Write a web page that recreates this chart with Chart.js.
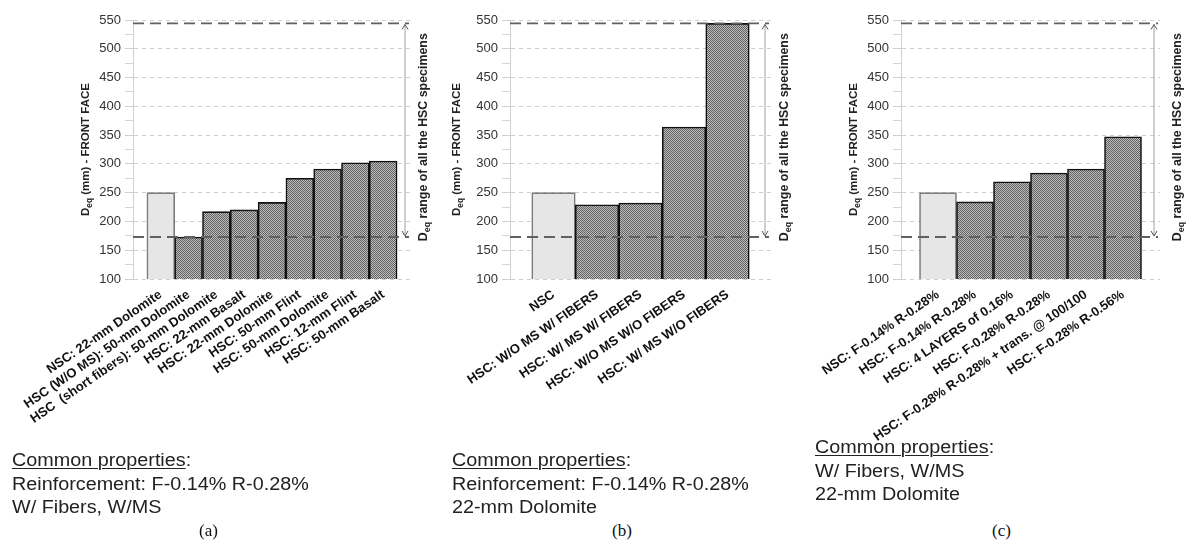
<!DOCTYPE html>
<html><head><meta charset="utf-8">
<script src="https://cdn.jsdelivr.net/npm/chart.js@4"></script>
<style>
html,body{margin:0;padding:0;background:#fff;width:1186px;height:542px;overflow:hidden;position:relative}
canvas{position:absolute;top:0}
.txt{position:absolute;font-family:'Liberation Sans',Arial,sans-serif;font-size:17.5px;color:#222;line-height:23.5px;transform:scaleX(1.13);transform-origin:0 0;white-space:nowrap}
.txt u{text-decoration-thickness:1px;text-underline-offset:2px}
.cap{position:absolute;font-family:'Liberation Serif','Times New Roman',serif;font-size:17px;color:#111;white-space:nowrap}
</style></head>
<body>
<canvas id="ca" width="445" height="450" style="left:0"></canvas>
<canvas id="cb" width="370" height="450" style="left:440px"></canvas>
<canvas id="cc" width="396" height="450" style="left:790px"></canvas>

<div class="txt" style="left:12px;top:449px"><u>Common properties</u>:<br>Reinforcement: F-0.14% R-0.28%<br>W/ Fibers, W/MS</div>
<div class="txt" style="left:452px;top:449px"><u>Common properties</u>:<br>Reinforcement: F-0.14% R-0.28%<br>22-mm Dolomite</div>
<div class="txt" style="left:815px;top:436px"><u>Common properties</u>:<br>W/ Fibers, W/MS<br>22-mm Dolomite</div>
<div class="cap" style="left:199px;top:521px">(a)</div>
<div class="cap" style="left:612px;top:521px">(b)</div>
<div class="cap" style="left:992px;top:521px">(c)</div>

<script>
// ---- data ----
const catsA = ["NSC: 22-mm Dolomite", "HSC (W/O MS): 50-mm Dolomite", "HSC  (short fibers): 50-mm Dolomite", "HSC: 22-mm Basalt", "HSC: 22-mm Dolomite", "HSC: 50-mm Flint", "HSC: 50-mm Dolomite", "HSC: 12-mm Flint", "HSC: 50-mm Basalt"];
const valsA = [250, 173, 217, 220, 233, 275, 291, 302, 305];
const catsB = ["NSC", "HSC: W/O MS W/ FIBERS", "HSC: W/ MS W/ FIBERS", "HSC: W/O MS W/O FIBERS", "HSC: W/ MS W/O FIBERS"];
const valsB = [250, 229, 232, 364, 544];
const catsC = ["NSC: F-0.14% R-0.28%", "HSC: F-0.14% R-0.28%", "HSC: 4 LAYERS of 0.16%", "HSC: F-0.28% R-0.28%", "HSC: F-0.28% R-0.28% + trans. @ 100/100", "HSC: F-0.28% R-0.56%"];
const valsC = [250, 234, 269, 284, 291, 347];
const hscRange = [173, 544];
const yTickValues = [100, 125, 150, 175, 200, 225, 250, 275, 300, 325, 350, 375, 400, 425, 450, 475, 500, 525, 550];
const yTitle = [["D", false], ["eq", true], [" (mm) - FRONT FACE", false]];
const rangeTitle = [["D", false], ["eq", true], [" range of all the HSC specimens", false]];

const FONT = '"Liberation Sans", Arial, sans-serif';

// hatch pattern for HSC bars
const pc = document.createElement('canvas'); pc.width = 2; pc.height = 2;
const pg = pc.getContext('2d');
pg.fillStyle = '#bcbcbc'; pg.fillRect(0, 0, 2, 2);
pg.fillStyle = '#636363'; pg.fillRect(0, 0, 1, 1); pg.fillRect(1, 1, 1, 1);
const hatch = pg.createPattern(pc, 'repeat');

function drawRich(ctx, parts, cx, cy, size, color) {
  ctx.save();
  ctx.translate(cx, cy); ctx.rotate(-Math.PI / 2);
  ctx.fillStyle = color; ctx.textBaseline = 'middle'; ctx.textAlign = 'left';
  let w = 0; const ws = [];
  parts.forEach(([t, sub]) => { ctx.font = 'bold ' + (sub ? size * 0.72 : size) + 'px ' + FONT; const m = ctx.measureText(t).width; ws.push(m); w += m; });
  let x = -w / 2;
  parts.forEach(([t, sub], i) => { ctx.font = 'bold ' + (sub ? size * 0.72 : size) + 'px ' + FONT; ctx.fillText(t, x, sub ? size * 0.32 : 0); x += ws[i]; });
  ctx.restore();
}

const annot = {
  id: 'annot',
  afterDatasetsDraw(chart, args, opts) {
    const { ctx, chartArea: a, scales: { y } } = chart;
    const yLo = y.getPixelForValue(hscRange[0]), yHi = y.getPixelForValue(hscRange[1]);
    ctx.save();
    ctx.strokeStyle = '#606060'; ctx.lineWidth = 1.8; ctx.setLineDash([11, 6]);
    [yHi, yLo].forEach(py => { ctx.beginPath(); ctx.moveTo(a.left, py); ctx.lineTo(a.right - 2, py); ctx.stroke(); });
    ctx.setLineDash([]);
    const ax = a.right - 6;
    ctx.strokeStyle = '#a0a0a0'; ctx.lineWidth = 1;
    ctx.beginPath(); ctx.moveTo(ax, yHi + 1); ctx.lineTo(ax, yLo - 1); ctx.stroke();
    ctx.strokeStyle = '#555';
    ctx.beginPath(); ctx.moveTo(ax - 3, yHi + 6); ctx.lineTo(ax, yHi + 1); ctx.lineTo(ax + 3, yHi + 6); ctx.stroke();
    ctx.beginPath(); ctx.moveTo(ax - 3, yLo - 6); ctx.lineTo(ax, yLo - 1); ctx.lineTo(ax + 3, yLo - 6); ctx.stroke();
    ctx.restore();
    drawRich(ctx, yTitle, a.left - opts.titleDx, (a.top + a.bottom) / 2, 11.5, '#222');
    drawRich(ctx, rangeTitle, a.right + opts.rangeDx, (yHi + yLo) / 2 + 7, 12.4, '#222');
  }
};

function makeChart(id, cats, vals, cfg) {
  const labels = ['', ...cats, ''];
  const data = [null, ...vals, null];
  const isNSC = c => (labels[c.dataIndex] || '').startsWith('NSC');
  return new Chart(document.getElementById(id), {
    type: 'bar',
    data: { labels, datasets: [{
      data,
      backgroundColor: c => isNSC(c) ? '#e6e6e6' : hatch,
      borderColor: c => isNSC(c) ? '#7a7a7a' : '#111',
      borderWidth: 1.6, borderSkipped: false,
      barPercentage: 1, categoryPercentage: 1
    }] },
    options: {
      responsive: false, maintainAspectRatio: false, animation: false,
      layout: { padding: { left: 0, right: cfg.padRight, top: 20, bottom: 0 } },
      plugins: { legend: { display: false }, tooltip: { enabled: false }, annot: { titleDx: cfg.titleDx, rangeDx: cfg.rangeDx } },
      scales: {
        x: {
          type: 'category', offset: false,
          grid: { display: false, drawTicks: false }, border: { display: false },
          ticks: { autoSkip: false, minRotation: 34.5, maxRotation: 34.5, padding: 8, color: '#111', font: { family: FONT, size: 13, weight: 'bold' } },
          afterFit: s => { s.height = 171; }
        },
        y: {
          min: 100, max: 550,
          afterBuildTicks: s => { s.ticks = yTickValues.map(v => ({ value: v })); },
          ticks: { autoSkip: false, padding: 4, color: '#333', font: { family: FONT, size: 13 }, callback: v => (v % 50 === 0 ? v : '') },
          grid: {
            color: c => (c.tick && c.tick.value % 50 === 0) ? '#cfcfcf' : 'rgba(0,0,0,0)',
            tickColor: c => (c.tick && c.tick.value % 50 === 0) ? '#cfcfcf' : '#d6d6d6',
            tickLength: 8, lineWidth: 1
          },
          border: { color: '#d0d0d0', width: 1, dash: [4, 4] },
          afterFit: s => { s.width = cfg.yWidth; }
        }
      }
    },
    plugins: [annot]
  });
}

makeChart('ca', catsA, valsA, { yWidth: 133, padRight: 34, titleDx: 47, rangeDx: 13 });
makeChart('cb', catsB, valsB, { yWidth: 70, padRight: 39, titleDx: 53, rangeDx: 14 });
makeChart('cc', catsC, valsC, { yWidth: 111, padRight: 26, titleDx: 47, rangeDx: 18 });
</script>
</body></html>
